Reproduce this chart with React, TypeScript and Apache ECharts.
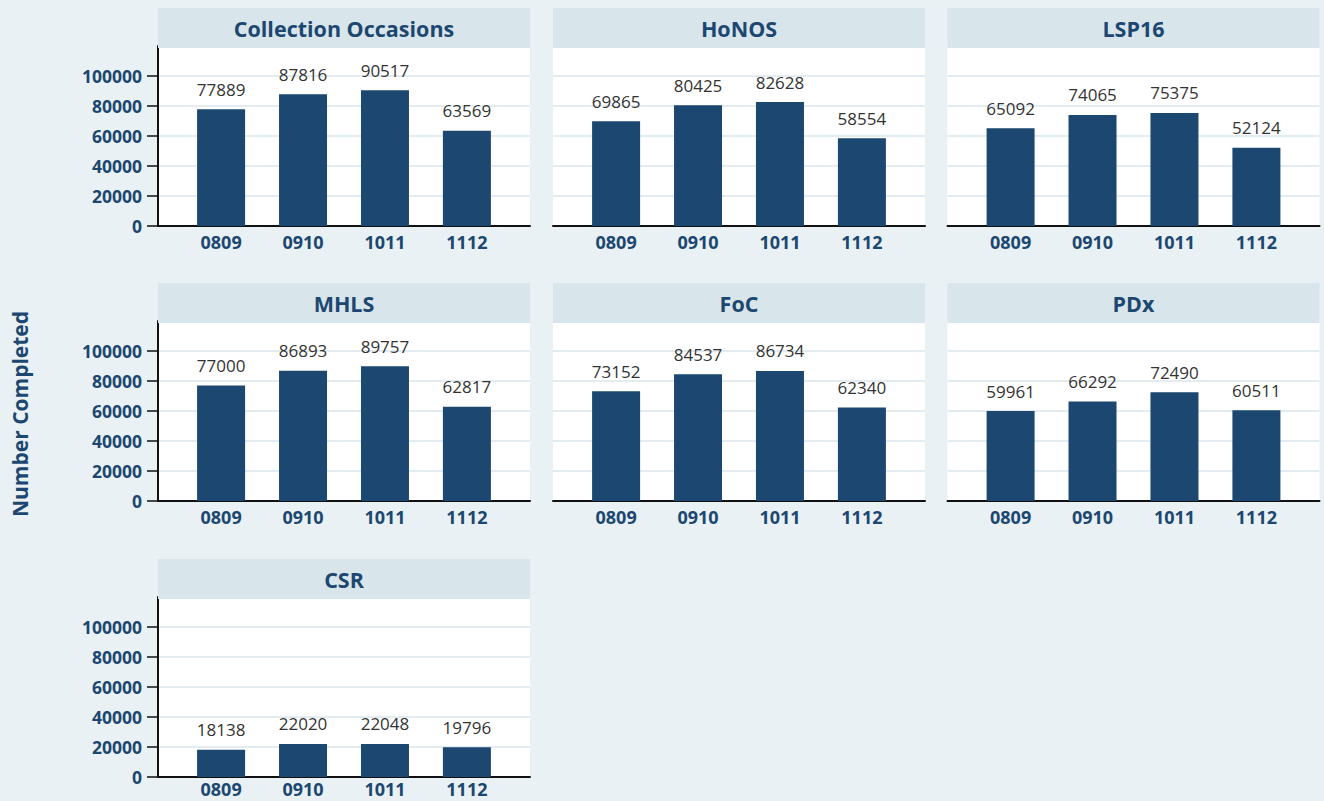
import React, { useEffect, useRef } from "react";
import * as echarts from "echarts";

const categories = ["0809", "0910", "1011", "1112"];
const panelTitles = ["Collection Occasions", "HoNOS", "LSP16", "MHLS", "FoC", "PDx", "CSR"];
const collectionOccasions = [77889, 87816, 90517, 63569];
const honos = [69865, 80425, 82628, 58554];
const lsp16 = [65092, 74065, 75375, 52124];
const mhls = [77000, 86893, 89757, 62817];
const foc = [73152, 84537, 86734, 62340];
const pdx = [59961, 66292, 72490, 60511];
const csr = [18138, 22020, 22048, 19796];
const yTickValues = [0, 20000, 40000, 60000, 80000, 100000];
const axisTitle = "Number Completed";

const panelData = [collectionOccasions, honos, lsp16, mhls, foc, pdx, csr];

const NAVY = "#1c4770";
const FONT = "Open Sans";
const colLefts = [158, 553, 947.5];
const rowZeros = [226, 501, 777];
const PANEL_W = 372;
const PLOT_H = 180;
const HEADER_H = 40;

export default function App() {
  const ref = useRef<HTMLDivElement>(null);

  useEffect(() => {
    if (!ref.current) return;
    const chart = echarts.init(ref.current, null, { renderer: "svg" });

    const grids: any[] = [];
    const xAxes: any[] = [];
    const yAxes: any[] = [];
    const series: any[] = [];
    const graphics: any[] = [];

    panelData.forEach((vals, i) => {
      const col = i % 3;
      const row = Math.floor(i / 3);
      const left = colLefts[col];
      const zero = rowZeros[row];
      const showY = col === 0;
      grids.push({
        left,
        top: zero - PLOT_H,
        width: PANEL_W,
        height: PLOT_H,
        show: true,
        backgroundColor: "#ffffff",
        borderWidth: 0,
      });
      xAxes.push({
        type: "value",
        gridIndex: i,
        min: -0.77,
        max: 3.77,
        axisLine: { show: true, onZero: false, lineStyle: { color: "#111", width: 2 } },
        axisTick: { show: false },
        splitLine: { show: false },
        axisLabel: {
          customValues: [0, 1, 2, 3],
          formatter: (v: number) => categories[Math.round(v)] ?? "",
          color: NAVY,
          fontWeight: "bold",
          fontSize: 18,
          lineHeight: 18,
          fontFamily: FONT,
          margin: row === 2 ? 3 : 7,
        },
      });
      yAxes.push({
        type: "value",
        gridIndex: i,
        min: 0,
        max: 120000,
        interval: 20000,
        axisLine: { show: showY, onZero: false, lineStyle: { color: "#111", width: 2 } },
        axisTick: {
          show: showY,
          length: 11,
          customValues: yTickValues,
          lineStyle: { color: "#111", width: 1.5 },
        },
        splitLine: { show: true, lineStyle: { color: "#e3ecf0", width: 2 } },
        axisLabel: {
          show: showY,
          customValues: yTickValues,
          formatter: (v: number) => String(v),
          color: NAVY,
          fontWeight: "bold",
          fontSize: 17.5,
          fontFamily: FONT,
          margin: 16,
        },
      });
      series.push({
        type: "bar",
        xAxisIndex: i,
        yAxisIndex: i,
        barWidth: 48,
        data: vals.map((v, k) => [k, v]),
        itemStyle: { color: NAVY },
        label: {
          show: true,
          position: "top",
          distance: 11.5,
          color: "#333",
          fontSize: 17,
          fontFamily: FONT,
        },
      });
      graphics.push({
        type: "rect",
        z: 100,
        shape: { x: left, y: zero - PLOT_H - HEADER_H + 2, width: PANEL_W, height: HEADER_H },
        style: { fill: "#d8e5eb" },
      });
      graphics.push({
        type: "text",
        z: 101,
        x: left + PANEL_W / 2,
        y: zero - PLOT_H - HEADER_H / 2 + 2.5,
        style: {
          text: panelTitles[i],
          align: "center",
          verticalAlign: "middle",
          fill: NAVY,
          fontSize: 21.5,
          fontWeight: "bold",
          fontFamily: FONT,
        },
      });
    });

    graphics.push({
      type: "text",
      z: 101,
      x: 20,
      y: 414,
      rotation: Math.PI / 2,
      style: {
        text: axisTitle,
        align: "center",
        verticalAlign: "middle",
        fill: NAVY,
        fontSize: 21,
        fontWeight: "bold",
        fontFamily: FONT,
      },
    });

    chart.setOption({
      animation: false,
      backgroundColor: "#e9f1f4",
      textStyle: { fontFamily: FONT },
      grid: grids,
      xAxis: xAxes,
      yAxis: yAxes,
      series,
      graphic: graphics,
    });

    return () => chart.dispose();
  }, []);

  return (
    <div
      ref={ref}
      style={{ position: "fixed", left: 0, top: 0, width: 1324, height: 801 }}
    />
  );
}
